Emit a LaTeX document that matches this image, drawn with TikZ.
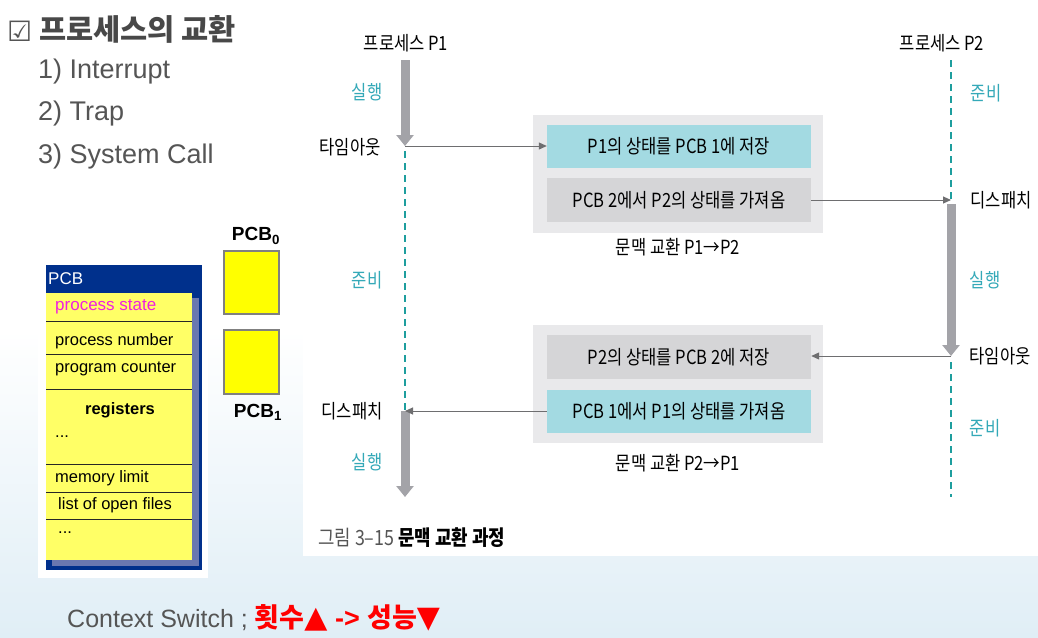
\documentclass[tikz,border=0pt]{standalone}
\usepackage{fontspec}
\setmainfont{Liberation Sans}
\newfontfamily\kr{Noto Sans CJK KR}
\newfontfamily\krc{Noto Sans CJK KR}[FakeStretch=0.85]
\newfontfamily\sym{DejaVu Sans}
\usetikzlibrary{arrows.meta}
\definecolor{txtgray}{HTML}{555555}
\definecolor{runteal}{HTML}{34A9B8}
\definecolor{dashteal}{HTML}{1E9E9E}
\definecolor{rungray}{HTML}{A3A3A8}
\definecolor{flowgray}{HTML}{6E6E70}
\definecolor{boxteal}{HTML}{A3DAE2}
\definecolor{boxgray}{HTML}{D5D5D7}
\definecolor{boxbg}{HTML}{E9E9EB}
\definecolor{pcbblue}{HTML}{00308C}
\definecolor{pcbshade}{HTML}{6A78B0}
\definecolor{pcbyellow}{HTML}{FFFF66}
\definecolor{pcbsq}{HTML}{FFFF00}
\definecolor{bgblue}{HTML}{E0EEF6}
\definecolor{pcbmag}{HTML}{F020E0}
\begin{document}
\begin{tikzpicture}[x=1pt,y=-1pt,
  dtext/.style={font=\krc\fontsize{19.5}{22}\selectfont, inner sep=0pt},
  state/.style={dtext, text=runteal},
  runarrow/.style={draw=rungray, line width=9pt, -{Triangle[width=17pt,length=11pt]}},
  readyline/.style={draw=dashteal, line width=2pt, dash pattern=on 7pt off 5pt},
  flow/.style={draw=flowgray, line width=1pt, -{Triangle[width=7pt,length=8pt]}},
  ctxbox/.style={fill=boxbg, minimum width=290pt, minimum height=118pt, inner sep=0pt},
  stepteal/.style={dtext, fill=boxteal, minimum width=264pt, minimum height=43pt},
  stepgray/.style={dtext, fill=boxgray, minimum width=264pt, minimum height=44pt},
  item/.style={font=\fontsize{27}{31}\selectfont, text=txtgray, anchor=west, inner sep=0pt},
  pcbrow/.style={font=\fontsize{16.5}{19}\selectfont, anchor=west, inner sep=0pt},
  pcbsquare/.style={fill=pcbsq, draw=gray, line width=1.2pt},
  pcblabel/.style={font=\bfseries\fontsize{19}{22}\selectfont, inner sep=0pt},
  pcbline/.style={draw=black!85, line width=0.8pt},
]
\useasboundingbox (0,0) rectangle (1038,637);
% background
\fill[white] (0,0) rectangle (1038,637);
\fill[top color=white, bottom color=bgblue] (0,330) rectangle (1038,637);
\fill[white] (303,0) rectangle (1038,556);

% title and list
\node[anchor=west, inner sep=0pt, text=txtgray, font=\sym\fontsize{28}{32}\selectfont] (titlechk) at (7,31) {☑};
\node[anchor=west, inner sep=0pt, text=txtgray!85!black, font=\kr\bfseries\fontsize{29.5}{33}\selectfont] (title) at (39,29) {프로세스의 교환};
\node[item] (item1) at (38,72) {1) Interrupt};
\node[item] (item2) at (38,114) {2) Trap};
\node[item] (item3) at (38,157) {3) System Call};

% PCB table
\fill[white] (38,256) rectangle (208,578);
\fill[pcbblue] (46,265) rectangle (202,570);
\fill[pcbshade] (192,298) rectangle (199,566);
\fill[pcbshade] (52,560) rectangle (199,566);
\fill[pcbyellow] (46,293) rectangle (192,560);
\node[anchor=west, inner sep=0pt, text=white, font=\fontsize{17}{20}\selectfont] (pcbhead) at (48,279) {PCB};
\foreach \yy in {321,354,389,464,492,519} \draw[pcbline] (46,\yy) -- (192,\yy);
\node[pcbrow, text=pcbmag, font=\fontsize{17}{20}\selectfont] (pcbstate) at (55,307) {process state};
\node[pcbrow] (pcbnum) at (55,341) {process number};
\node[pcbrow] (pcbcnt) at (55,369) {program counter};
\node[pcbrow, anchor=center, font=\bfseries\fontsize{16.5}{19}\selectfont] (pcbreg) at (120,410) {registers};
\node[pcbrow] (pcbdotsa) at (55,437) {...};
\node[pcbrow] (pcbmem) at (55,478) {memory limit};
\node[pcbrow] (pcbfiles) at (58,505) {list of open files};
\node[pcbrow] (pcbdotsb) at (58,533) {...};

% PCB squares
\fill[pcbsquare] (224,251) rectangle (279,314);
\fill[pcbsquare] (224,330) rectangle (279,394);
\draw[pcbsquare, fill=none] (224,251) rectangle (279,314);
\draw[pcbsquare, fill=none] (224,330) rectangle (279,394);
\node[pcblabel] (pcbzero) at (256,236) {PCB\textsubscript{0}};
\node[pcblabel] (pcbone) at (258,412) {PCB\textsubscript{1}};

% process labels
\node[dtext] (p1title) at (406,43) {프로세스 P1};
\node[dtext] (p2title) at (942,43) {프로세스 P2};
\node[state] (p1runa) at (367,92) {실행};
\node[dtext] (p1timeout) at (350,147) {타임아웃};
\node[state] (p1ready) at (367,280) {준비};
\node[dtext] (p1disp) at (352,411) {디스패치};
\node[state] (p1runb) at (367,462) {실행};
\node[state] (p2readya) at (986,93) {준비};
\node[dtext] (p2disp) at (1001,200) {디스패치};
\node[state] (p2run) at (985,280) {실행};
\node[dtext] (p2timeout) at (1000,356) {타임아웃};
\node[state] (p2readyb) at (985,428) {준비};

% timeline points
\coordinate (p1top) at (405,60);
\coordinate (p1to) at (405,146);
\coordinate (p1rdy) at (405,151);
\coordinate (p1dp) at (405,411);
\coordinate (p1end) at (405,497);
\coordinate (p2top) at (951,60);
\coordinate (p2dp) at (951,200);
\coordinate (p2run0) at (951,204);
\coordinate (p2to) at (951,356);
\coordinate (p2rdy) at (951,362);
\coordinate (p2end) at (951,497);

% timelines
\draw[runarrow] (p1top) -- (p1to);
\draw[readyline] (p1rdy) -- (p1dp);
\draw[runarrow] (p1dp) -- (p1end);
\draw[readyline] (p2top) -- (p2dp);
\draw[runarrow] (p2run0) -- (p2to);
\draw[readyline] (p2rdy) -- (p2end);

% context switch boxes
\node[ctxbox] (ctxa) at (678,174) {};
\node[stepteal] (savea) at (679,146.5) {P1의 상태를 PCB 1에 저장};
\node[stepgray] (loadb) at (679,200) {PCB 2에서 P2의 상태를 가져옴};
\node[dtext] (capa) at (678,247) {문맥 교환 P1→P2};
\node[ctxbox] (ctxb) at (678,384) {};
\node[stepgray] (saveb) at (679,357) {P2의 상태를 PCB 2에 저장};
\node[stepteal] (loada) at (679,411) {PCB 1에서 P1의 상태를 가져옴};
\node[dtext] (capb) at (678,463) {문맥 교환 P2→P1};

% flows
\draw[flow] (p1to) -- (p1to -| savea.west);
\draw[flow] (loadb.east) -- (p2dp);
\draw[flow] (p2to) -- (p2to -| saveb.east);
\draw[flow] (loada.west) -- (p1dp);

% figure caption
\node[anchor=west, inner sep=0pt, font=\krc\fontsize{21}{24}\selectfont, text=txtgray] (figcap) at (318,538) {그림 3–15 \textcolor{black}{\bfseries 문맥 교환 과정}};

% bottom note
\node[anchor=west, inner sep=0pt, font=\fontsize{25}{30}\selectfont, text=txtgray] (ctxsw) at (67,618) {Context Switch ; \textcolor{red}{\bfseries\fontsize{27}{30}\selectfont{\kr 횟수}{\sym\fontsize{30}{30}\selectfont▲} -> {\kr 성능}{\sym\fontsize{30}{30}\selectfont▼}}};
\end{tikzpicture}
\end{document}
